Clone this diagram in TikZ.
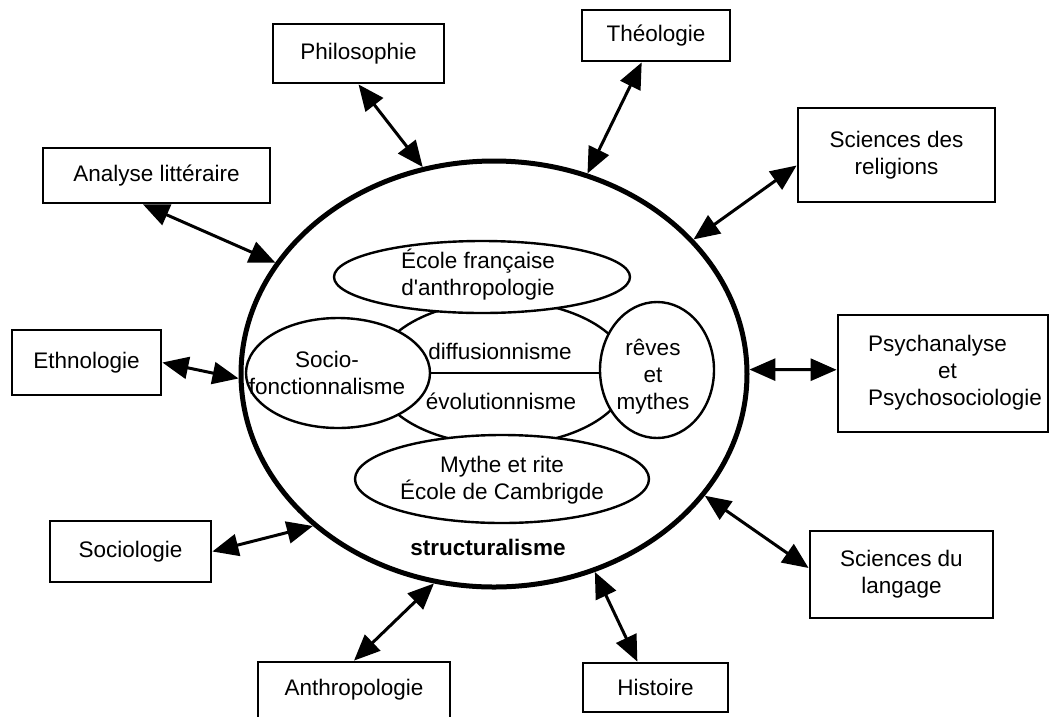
\documentclass[tikz,border=0pt]{standalone}
\usepackage{fontspec}
\setmainfont{Liberation Sans}
\usetikzlibrary{arrows.meta,shapes.geometric}
\tikzset{
  >={Triangle[length=26pt,width=22pt]},
  font=\fontsize{22.5}{27}\selectfont,
  box/.style={draw,line width=2.8pt,inner sep=0pt,align=center},
  field/.style={draw,ellipse,line width=5pt,inner sep=0pt},
  blob/.style={draw,ellipse,line width=2.4pt,fill=white,inner sep=0pt},
  lbl/.style={inner sep=1pt,align=center},
  link/.style={<->,line width=3pt},
}

\begin{document}
\begin{tikzpicture}[x=1pt,y=-1pt]
  \useasboundingbox (0,0) rectangle (1050,716);
  \clip (0,0) rectangle (1050,716);

  % the structuralist field and its schools
  \node[field,minimum width=506pt,minimum height=426pt] (struct) at (494,374) {};
  \node[blob,minimum width=254pt,minimum height=144pt] (mid) at (502,373) {};
  \node[blob,minimum width=296pt,minimum height=72pt] (ecole) at (482,277) {};
  \node[blob,minimum width=294pt,minimum height=88pt] (mythe) at (502,479) {};
  \node[blob,minimum width=184pt,minimum height=110pt] (socio) at (338,373) {};
  \node[blob,minimum width=114pt,minimum height=136pt] (reves) at (657,370) {};
  \draw[line width=2.4pt] (socio.east) -- (socio.east -| reves.west);

  \node[lbl] (ecoletxt) at (478,275) {École française\\d\textquotesingle anthropologie};
  \node[lbl] (mythetxt) at (502,480) {Mythe et rite\\École de Cambrigde};
  \node[lbl] (sociotxt) at (327,373) {Socio-\\fonctionnalisme};
  \node[lbl] (revestxt) at (653,377) {rêves\\et\\mythes};
  \node[lbl] (diff) at (500,351) {diffusionnisme};
  \node[lbl] (evol) at (501,401) {évolutionnisme};
  \node[lbl,font=\fontsize{22.5}{27}\selectfont\bfseries] (stru) at (488,547) {structuralisme};

  % neighbouring disciplines
  \node[box,minimum width=171pt,minimum height=59pt] (phil) at (358.5,53.5) {Philosophie};
  \node[box,minimum width=227pt,minimum height=55pt] (anl) at (156.5,175.5) {Analyse littéraire};
  \node[box,minimum width=149pt,minimum height=65pt] (eth) at (86.5,362.5) {Ethnologie};
  \node[box,minimum width=148pt,minimum height=51pt] (theo) at (656,35.5) {Théologie};
  \node[box,minimum width=197pt,minimum height=94pt] (rel) at (896.5,155) {Sciences des\\religions};
  \node[box,minimum width=210pt,minimum height=117pt] (psy) at (943,373.5) {};
  \node[lbl,align=left] (psytxt) at (955,373) {Psychanalyse\\\hspace*{70pt}et\\Psychosociologie};
  \node[box,minimum width=161pt,minimum height=61pt] (soc) at (130.5,551.5) {Sociologie};
  \node[box,minimum width=192pt,minimum height=56pt] (anth) at (354,690) {Anthropologie};
  \node[box,minimum width=145pt,minimum height=49pt] (hist) at (655.5,687.5) {Histoire};
  \node[box,minimum width=183pt,minimum height=87pt] (lang) at (901.5,574.5) {Sciences du\\langage};

  \draw[link] (phil.south) -- (struct.109);
  \draw[link] (anl.-115) -- (struct.153);
  \draw[link] (theo.-118) -- (struct.65);
  \draw[link] (rel.-174) -- (struct.34);
  \draw[link] (eth.east) -- (struct.-179);
  \draw[link] (psy.178) -- (struct.1);
  \draw[link] (soc.east) -- (struct.-140);
  \draw[link] (anth.north) -- (struct.-106);
  \draw[link] (hist.125) -- (struct.-63);
  \draw[link] (lang.176) -- (struct.-30);
\end{tikzpicture}
\end{document}
